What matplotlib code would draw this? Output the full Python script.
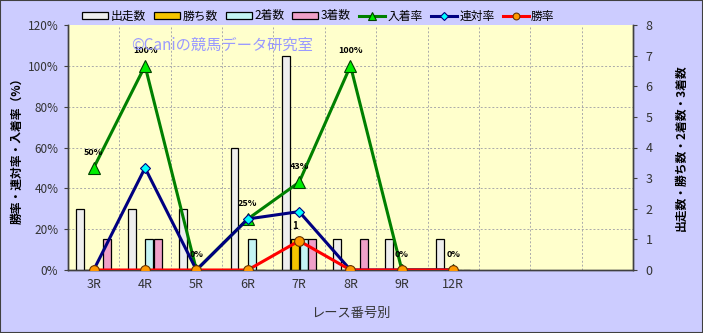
import numpy as np
import matplotlib.pyplot as plt
from matplotlib.patches import Rectangle

plt.rcParams['font.family'] = ['Noto Sans CJK JP', 'DejaVu Sans']

# categories (last three slots are empty in the chart)
races = ['3R', '4R', '5R', '6R', '7R', '8R', '9R', '12R', '', '', '']
n_data = 8

# counts (right axis)
starts = [2, 2, 2, 4, 7, 1, 1, 1]
wins = [0, 0, 0, 0, 1, 0, 0, 0]
seconds = [0, 1, 0, 1, 1, 0, 0, 0]
thirds = [1, 1, 0, 0, 1, 1, 0, 0]

# rates in % (left axis)
place_rate = [50, 100, 0, 25, 43, 100, 0, 0]
top2_rate = [0, 50, 0, 25, 28.6, 0, 0, 0]
win_rate = [0, 0, 0, 0, 14.3, 0, 0, 0]

pct_ticks = [0, 20, 40, 60, 80, 100, 120]
cnt_ticks = list(range(9))

fig = plt.figure(figsize=(7.03, 3.33), dpi=100, facecolor='#ccccff')
fig.patches.append(Rectangle((0, 0), 1, 1, transform=fig.transFigure,
                             fill=False, edgecolor='#404040', lw=1.5))

ax_bar = fig.add_axes([68 / 703, 1 - 270 / 333, 565 / 703, 245 / 333])
ax_bar.set_facecolor('#ffffcc')
ax_line = ax_bar.twinx()

x = np.arange(n_data)
w = 0.172
bar_sets = [
    (starts, '#eeeeee', '出走数'),
    (wins, '#f5c400', '勝ち数'),
    (seconds, '#c4f4f4', '2着数'),
    (thirds, '#f0a0c8', '3着数'),
]
handles = []
for i, (vals, col, lab) in enumerate(bar_sets):
    b = ax_bar.bar(x + (i - 1.5) * w, vals, width=w * 0.9, color=col,
                   edgecolor='black', linewidth=0.9, label=lab, zorder=3)
    handles.append(b)

# label on the win-count bar
for xi, v in zip(x, wins):
    if v > 0:
        ax_bar.annotate(str(v), (xi - 0.5 * w, v), xytext=(0, 6),
                        textcoords='offset points', ha='center', va='bottom',
                        fontsize=7, fontweight='bold', zorder=6)

# grid lines (dashed) behind the bars
for p in pct_ticks[1:-1]:
    ax_bar.axhline(p / pct_ticks[-1] * cnt_ticks[-1], color='#aaaaaa',
                   ls=(0, (2, 2)), lw=0.7, zorder=1)
for k in range(len(races) - 1):
    ax_bar.axvline(k + 0.5, color='#aaaaaa', ls=(0, (2, 2)), lw=0.7, zorder=1)

ax_bar.set_xlim(-0.5, len(races) - 0.5)
ax_bar.set_ylim(0, 8)
ax_bar.set_yticks(cnt_ticks)
ax_bar.set_xticks(np.arange(len(races)))
ax_bar.set_xticklabels(races)
ax_bar.tick_params(axis='x', length=0, pad=6, labelsize=9, labelcolor='#333333')
ax_bar.yaxis.tick_right()
ax_bar.yaxis.set_label_position('right')
ax_bar.tick_params(axis='y', direction='out', length=3, pad=6,
                   labelsize=9, labelcolor='#333333', color='#404040')

# lines
l1, = ax_line.plot(x, place_rate, color='#008000', lw=2.2, marker='^',
                   ms=8, mfc='#00ee00', mec='#004000', mew=0.8,
                   label='入着率', zorder=4)
l2, = ax_line.plot(x, top2_rate, color='#000080', lw=2.2, marker='D',
                   ms=5.5, mfc='#00ffff', mec='#000080', mew=0.8,
                   label='連対率', zorder=5)
l3, = ax_line.plot(x, win_rate, color='#ff0000', lw=2.2, marker='o',
                   ms=7, mfc='#ff9900', mec='#663300', mew=0.8,
                   label='勝率', zorder=6)
handles += [l1, l2, l3]

for xi, v in zip(x, place_rate):
    ax_line.annotate(f'{v:.0f}%', (xi, v), xytext=(0, 8),
                     textcoords='offset points', ha='center', va='bottom',
                     fontsize=6.5, fontweight='bold', zorder=7)

ax_line.set_ylim(0, 120)
ax_line.set_yticks(pct_ticks)
ax_line.set_yticklabels([f'{p}%' for p in pct_ticks])
ax_line.yaxis.tick_left()
ax_line.yaxis.set_label_position('left')
ax_line.tick_params(axis='y', direction='out', length=3, pad=4,
                    labelsize=8.5, labelcolor='#333333', color='#404040')

for a in (ax_bar, ax_line):
    a.spines['top'].set_visible(False)
    for s in ('left', 'right', 'bottom'):
        a.spines[s].set_color('#404040')
        a.spines[s].set_linewidth(1.0)

ax_line.set_ylabel('勝率・連対率・入着率（%）', fontsize=8.5, fontweight='bold',
                   labelpad=3)
ax_bar.set_ylabel('出走数・勝ち数・2着数・3着数', fontsize=8.5,
                  fontweight='bold', labelpad=16)
ax_bar.set_xlabel('レース番号別', fontsize=9.5, color='#333333', labelpad=11)

fig.text(131 / 703, 1 - 45 / 333, '©Caniの競馬データ研究室', fontsize=11,
         color='#9a9aff', va='center', ha='left', zorder=10)

fig.legend(handles=handles, loc='center left',
           bbox_to_anchor=(82 / 703, 1 - 16 / 333), ncol=7, frameon=False,
           fontsize=8.5, handlelength=2.2, handleheight=0.5, markerscale=0.7,
           columnspacing=0.7, handletextpad=0.2, borderaxespad=0,
           borderpad=0)

fig.savefig('out.png', dpi=100, facecolor=fig.get_facecolor())
